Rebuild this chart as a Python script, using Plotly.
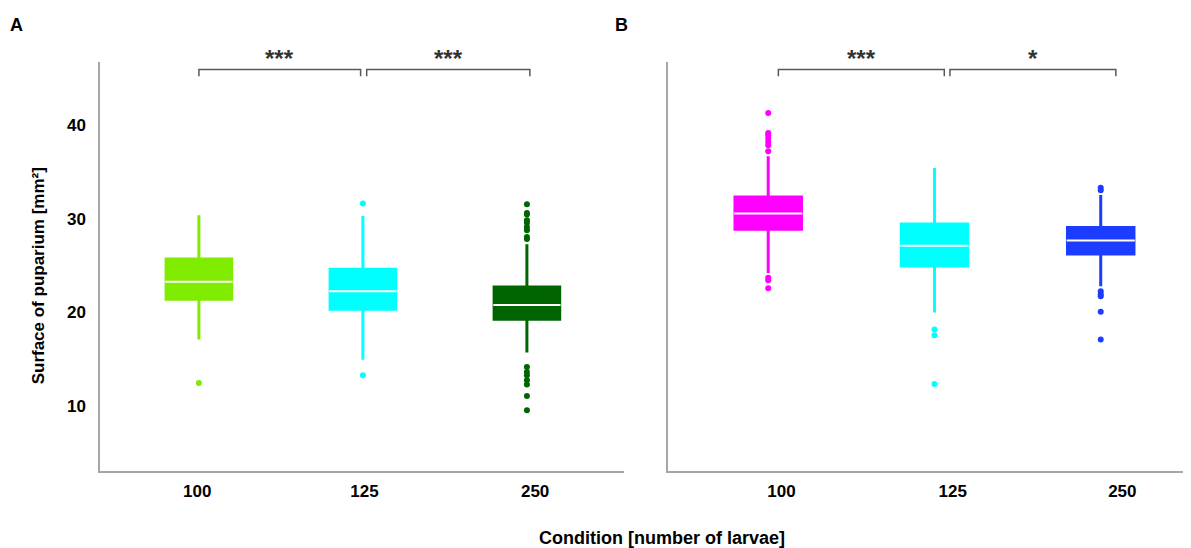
import plotly.graph_objects as go

categories = ["100", "125", "250"]

# Panel A statistics
a_lowerfence = [17.08, 14.94, 15.69]
a_q1 = [21.39, 20.32, 19.25]
a_median = [23.28, 22.25, 20.78]
a_q3 = [25.70, 24.60, 22.71]
a_upperfence = [30.37, 30.30, 27.27]
a_outliers = [
    [12.44],
    [31.63, 13.26],
    [31.55, 30.62, 30.45, 29.84, 29.59, 29.12, 28.77, 28.05, 27.84,
     14.15, 13.62, 13.26, 12.73, 12.27, 11.05, 9.52],
]
a_colors = ["#7FEC00", "#00FFFF", "#006400"]

# Panel B statistics
b_lowerfence = [24.20, 19.97, 22.78]
b_q1 = [28.88, 24.95, 26.24]
b_median = [30.56, 27.13, 27.67]
b_q3 = [32.33, 29.45, 29.06]
b_upperfence = [36.68, 35.43, 32.55]
b_outliers = [
    [41.32, 39.18, 38.93, 38.58, 38.22, 37.86, 37.22, 23.71, 23.42, 22.57],
    [18.15, 17.54, 12.33],
    [33.33, 33.05, 22.25, 21.93, 21.71, 20.07, 17.08],
]
b_colors = ["#FF00FF", "#00FFFF", "#1C3DFF"]

# significance labels
a_sig = ["***", "***"]
b_sig = ["***", "*"]

y_ticks = [10, 20, 30, 40]

# layout helpers (positions, not data)
a_tickpos = [-0.01, 1.01, 2.05]
b_tickpos = [0.08, 1.11, 2.13]
a_brackets = [(0.0, 0.986), (1.023, 2.018)]
b_brackets = [(0.061, 1.059), (1.093, 2.091)]
BOX_W = 0.40
MED_HW = 0.205

FONT = "Liberation Sans, Arial, sans-serif"

fig = go.Figure()


def add_panel(xa, ya, lf, q1, med, q3, uf, outs, colors):
    for i in range(len(categories)):
        fig.add_trace(go.Box(
            x=[i], q1=[q1[i]], median=[med[i]], q3=[q3[i]],
            lowerfence=[lf[i]], upperfence=[uf[i]],
            width=BOX_W, whiskerwidth=0,
            fillcolor=colors[i], line=dict(color=colors[i], width=3),
            boxpoints=False, showlegend=False, hoverinfo="skip",
            xaxis=xa, yaxis=ya,
        ))
    for i in range(len(categories)):
        fig.add_trace(go.Scatter(
            x=[i - MED_HW, i + MED_HW], y=[med[i], med[i]], mode="lines",
            line=dict(color="white", width=2), showlegend=False,
            hoverinfo="skip", xaxis=xa, yaxis=ya,
        ))
        fig.add_trace(go.Scatter(
            x=[i] * len(outs[i]), y=outs[i], mode="markers",
            marker=dict(color=colors[i], size=6), showlegend=False,
            hoverinfo="skip", xaxis=xa, yaxis=ya,
        ))


add_panel("x", "y", a_lowerfence, a_q1, a_median, a_q3, a_upperfence, a_outliers, a_colors)
add_panel("x2", "y2", b_lowerfence, b_q1, b_median, b_q3, b_upperfence, b_outliers, b_colors)

AXIS_COL = "#A6A6A6"
xr_a = [-0.603, 2.592]
xr_b = [-0.603, 2.543]
yr = [3.03, 46.77]

common_x = dict(showgrid=False, zeroline=False, showline=True,
                linecolor=AXIS_COL, linewidth=1.5, ticks="",
                ticklabelstandoff=4,
                tickfont=dict(family=FONT, size=17, color="black"))
common_y = dict(range=yr, showgrid=False, zeroline=False, showline=True,
                linecolor=AXIS_COL, linewidth=1.5, ticks="",
                tickvals=y_ticks, ticklabelstandoff=9,
                tickfont=dict(family=FONT, size=17, color="black"))

# page body has an 8px margin: figure is sized/offset to compensate
fig.update_layout(
    width=1183, height=540,
    margin=dict(l=92, r=0, t=54, b=77),
    plot_bgcolor="white", paper_bgcolor="white",
    xaxis=dict(domain=[0, 0.4803], range=xr_a, tickvals=a_tickpos,
               ticktext=[f"<b>{c}</b>" for c in categories], anchor="y", **common_x),
    xaxis2=dict(domain=[0.5206, 1], range=xr_b, tickvals=b_tickpos,
                ticktext=[f"<b>{c}</b>" for c in categories], anchor="y2", **common_x),
    yaxis=dict(anchor="x", ticktext=[f"<b>{v}</b>" for v in y_ticks], **common_y),
    yaxis2=dict(anchor="x2", showticklabels=False, **common_y),
)

shapes = []
annotations = []
BR_Y = 0.9814
BR_Y0 = 0.965
STAR_Y = 1.009
for xref, brs, sigs in (("x", a_brackets, a_sig), ("x2", b_brackets, b_sig)):
    for (x0, x1), s in zip(brs, sigs):
        shapes.append(dict(type="path", xref=xref, yref="paper",
                           path=f"M {x0},{BR_Y0} L {x0},{BR_Y} L {x1},{BR_Y} L {x1},{BR_Y0}",
                           line=dict(color="#595959", width=1.5)))
        annotations.append(dict(xref=xref, yref="paper", x=(x0 + x1) / 2, y=STAR_Y,
                                text=f"<b>{s}</b>", showarrow=False, xanchor="center",
                                yanchor="middle",
                                font=dict(family=FONT, size=24, color="#333333")))

annotations += [
    dict(xref="paper", yref="paper", x=-0.0843, y=1.121, text="<b>A</b>",
         showarrow=False, font=dict(family=FONT, size=18, color="black")),
    dict(xref="paper", yref="paper", x=0.478, y=1.121, text="<b>B</b>",
         showarrow=False, font=dict(family=FONT, size=18, color="black")),
    dict(xref="paper", yref="paper", x=-0.0568, y=0.476,
         text="<b>Surface of puparium [mm²]</b>", textangle=-90,
         showarrow=False, xanchor="center", yanchor="middle",
         font=dict(family=FONT, size=17, color="black")),
    dict(xref="paper", yref="paper", x=0.515, y=-0.1646,
         text="<b>Condition [number of larvae]</b>",
         showarrow=False, xanchor="center", yanchor="middle",
         font=dict(family=FONT, size=18, color="black")),
]

fig.update_layout(shapes=shapes, annotations=annotations)
fig.write_html("out.html")
